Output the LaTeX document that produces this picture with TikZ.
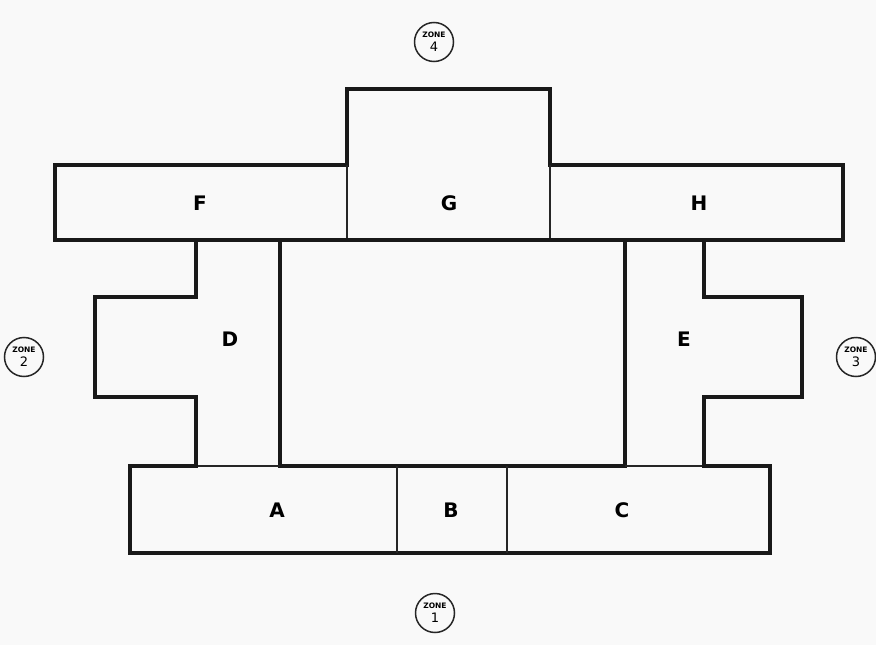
\documentclass[tikz,border=0pt]{standalone}
\usepackage{fontspec}
\setmainfont{DejaVu Sans}
\begin{document}
\begin{tikzpicture}[x=1pt,y=-1pt,
  wall/.style={line width=3.6pt,line join=miter,line cap=rect,black!90},
  part/.style={line width=1.4pt,black!85},
  room/.style={font=\fontsize{20}{20}\selectfont\bfseries,inner sep=0pt},
  zone/.style={circle,draw=black!85,line width=1.5pt,minimum size=39pt,inner sep=0pt,align=center,font=\fontsize{13}{14}\selectfont}]
\fill[gray!5] (0,0) rectangle (876,645);
\useasboundingbox (0,0) rectangle (876,645);
% G block
\draw[wall] (347,165)--(347,89)--(550,89)--(550,165);
% F-G-H band
\draw[wall] (347,165)--(55,165)--(55,240)--(843,240)--(843,165)--(550,165);
\draw[part] (347,165)--(347,240) (550,165)--(550,240);
% central court
\draw[wall] (280,240) rectangle (625,466);
% D wing
\draw[wall] (196,240)--(196,297)--(95,297)--(95,397)--(196,397)--(196,466);
\draw[part] (196,466)--(280,466);
% E wing
\draw[wall] (704,240)--(704,297)--(802,297)--(802,397)--(704,397)--(704,466);
\draw[part] (625,466)--(704,466);
% A-B-C band
\draw[wall] (196,466)--(130,466)--(130,553)--(770,553)--(770,466)--(704,466);
\draw[part] (397,466)--(397,553) (507,466)--(507,553);
% labels
\node[room] (F) at (200,203) {F};
\node[room] (G) at (449,203) {G};
\node[room] (H) at (699,203) {H};
\node[room] (D) at (230,339) {D};
\node[room] (E) at (684,339) {E};
\node[room] (A) at (277,510) {A};
\node[room] (B) at (451,510) {B};
\node[room] (C) at (622,510) {C};
% zones
\node[zone] (z4) at (434,42) {{\fontsize{7.5}{7.5}\selectfont\bfseries ZONE}\\4};
\node[zone] (z2) at (24,357) {{\fontsize{7.5}{7.5}\selectfont\bfseries ZONE}\\2};
\node[zone] (z3) at (856,357) {{\fontsize{7.5}{7.5}\selectfont\bfseries ZONE}\\3};
\node[zone] (z1) at (435,613) {{\fontsize{7.5}{7.5}\selectfont\bfseries ZONE}\\1};
\end{tikzpicture}
\end{document}
